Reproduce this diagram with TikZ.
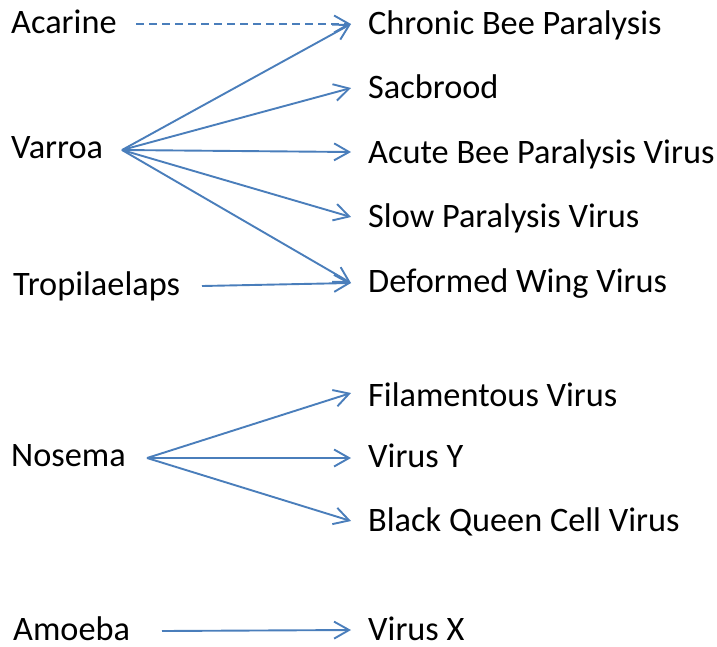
\documentclass[tikz,border=0pt]{standalone}
\usepackage{fontspec}
\setmainfont{Carlito}
\usetikzlibrary{arrows.meta}
\definecolor{arrowblue}{HTML}{4A7EBB}
\tikzset{
  lbl/.style={anchor=base west, inner sep=0pt, font=\fontsize{34.3}{40}\selectfont},
  link/.style={draw=arrowblue, line width=1.9pt, -{Straight Barb[length=15pt,width=17pt,line width=1.9pt]}},
}
\begin{document}
\begin{tikzpicture}[x=1pt,y=-1pt]
\useasboundingbox (0,0) rectangle (717,646);
% sources
\node[lbl] (acarine) at (11,33) {Acarine};
\node[lbl] (varroa) at (11,158) {Varroa};
\node[lbl] (tropi) at (13,295) {Tropilaelaps};
\node[lbl] (nosema) at (11,466) {Nosema};
\node[lbl] (amoeba) at (13,640) {Amoeba};
% targets
\node[lbl] (cbp) at (368,34) {Chronic Bee Paralysis};
\node[lbl] (sac) at (368,98) {Sacbrood};
\node[lbl] (abpv) at (368,163) {Acute Bee Paralysis Virus};
\node[lbl] (spv) at (368,227) {Slow Paralysis Virus};
\node[lbl] (dwv) at (368,292) {Deformed Wing Virus};
\node[lbl] (fil) at (368,406) {Filamentous Virus};
\node[lbl] (vy) at (368,467) {Virus Y};
\node[lbl] (bqcv) at (368,531) {Black Queen Cell Virus};
\node[lbl] (vx) at (368,640) {Virus X};
% connector ends
\coordinate (vsrc) at (122,150);
\coordinate (nsrc) at (147,458);
\coordinate (asrc) at (136,24);
\coordinate (tsrc) at (202,286);
\coordinate (msrc) at (162,631);
\coordinate (tcbp) at (351,24);
\coordinate (tsac) at (351,88);
\coordinate (tabpv) at (351,152);
\coordinate (tspv) at (351,217);
\coordinate (tdwv) at (351,283);
\coordinate (tfil) at (351,393);
\coordinate (tvy) at (351,458);
\coordinate (tbqcv) at (351,521);
\coordinate (tvx) at (351,630);
% connectors
\draw[link, dash pattern=on 8pt off 5pt] (asrc) -- (tcbp);
\draw[link] (vsrc) -- (tcbp);
\draw[link] (vsrc) -- (tsac);
\draw[link] (vsrc) -- (tabpv);
\draw[link] (vsrc) -- (tspv);
\draw[link] (vsrc) -- (tdwv);
\draw[link] (tsrc) -- (tdwv);
\draw[link] (nsrc) -- (tfil);
\draw[link] (nsrc) -- (tvy);
\draw[link] (nsrc) -- (tbqcv);
\draw[link] (msrc) -- (tvx);
\end{tikzpicture}
\end{document}
